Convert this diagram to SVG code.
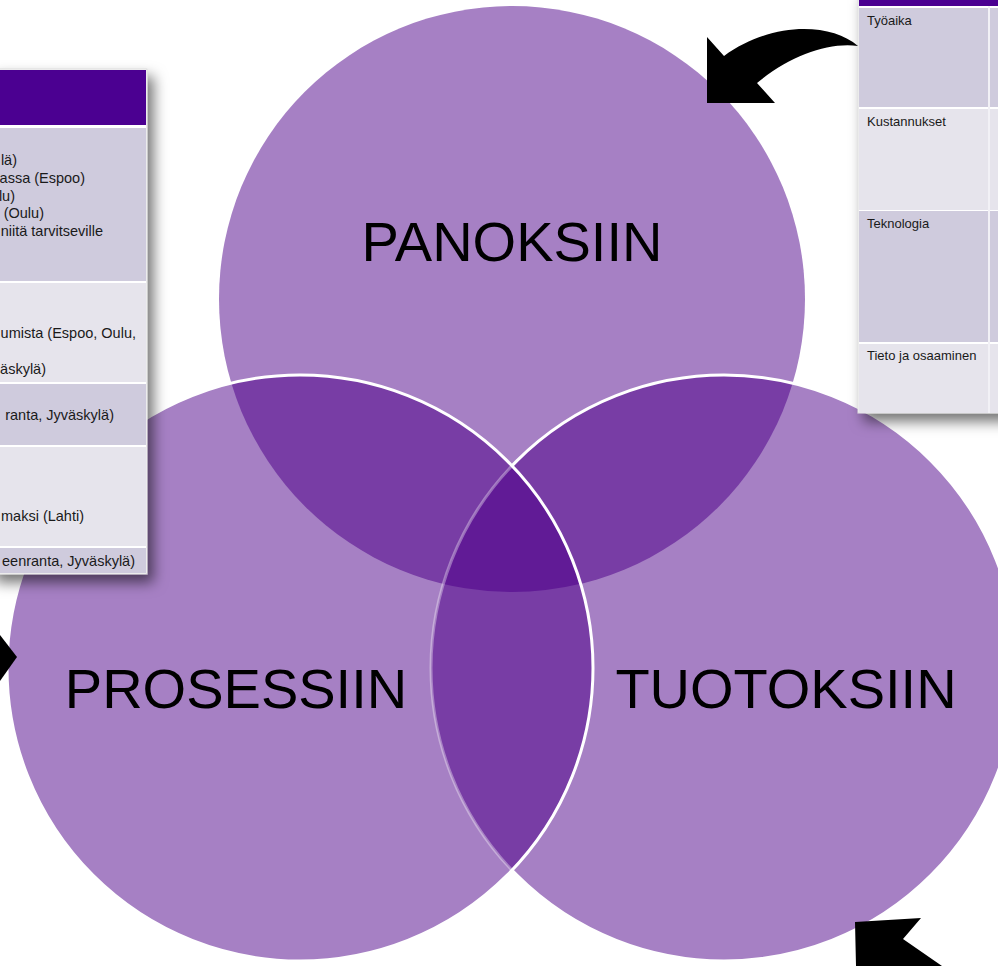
<svg xmlns="http://www.w3.org/2000/svg" width="998" height="966" viewBox="0 0 998 966">
  <style>
    .base { fill: #A680C4; }
    .pair { fill: #783DA5; }
    .triple { fill: #611B96; }
    .rim { fill: none; stroke: #FFFFFF; stroke-width: 3; }
    .label { font-family: "Liberation Sans", Arial, sans-serif; font-size: 56px; fill: #000000; text-anchor: middle; }
    .cell { font-family: "Liberation Sans", Arial, sans-serif; font-size: 13px; fill: #1A1A1A; }
    .cellWide { font-size: 14.5px; text-anchor: end; }
    .head { fill: #4B0091; }
    .rowDark { fill: #CFCBDD; }
    .rowLight { fill: #E6E4EC; }
    .arrow { fill: #000000; }
  </style>
  <defs>
    <clipPath id="clipTop"><circle cx="512" cy="299" r="293"/></clipPath>
    <clipPath id="clipLeft"><circle cx="300" cy="668" r="293"/></clipPath>
    <clipPath id="clipTopLeft" clip-path="url(#clipTop)"><circle cx="300" cy="668" r="293"/></clipPath>
    <mask id="outsideLeft">
      <rect x="0" y="0" width="998" height="966" fill="#FFFFFF"/>
      <circle cx="300" cy="668" r="293" fill="#000000"/>
    </mask>
    <filter id="tableShadow" x="-20%" y="-20%" width="140%" height="140%">
      <feDropShadow dx="6" dy="8" stdDeviation="7" flood-color="#000000" flood-opacity="0.55"/>
    </filter>
  </defs>

  <rect x="0" y="0" width="998" height="966" fill="#FFFFFF"/>

  <!-- Venn diagram: three circles with darker overlaps -->
  <g id="venn-fills">
    <circle class="base" cx="512" cy="299" r="293"/>
    <circle class="base" cx="724" cy="668" r="293"/>
    <circle class="base" cx="300" cy="668" r="293"/>
    <circle class="pair" cx="300" cy="668" r="293" clip-path="url(#clipTop)"/>
    <circle class="pair" cx="724" cy="668" r="293" clip-path="url(#clipTop)"/>
    <circle class="pair" cx="724" cy="668" r="293" clip-path="url(#clipLeft)"/>
    <circle class="triple" cx="724" cy="668" r="293" clip-path="url(#clipTopLeft)"/>
  </g>
  <g id="venn-rims">
    <circle class="rim" cx="724" cy="668" r="293" mask="url(#outsideLeft)"/>
    <circle class="rim" cx="724" cy="668" r="293" clip-path="url(#clipLeft)" stroke-opacity="0.35"/>
    <circle class="rim" cx="300" cy="668" r="293"/>
  </g>

  <g id="node-panoksiin">
    <text class="label" x="512" y="261">PANOKSIIN</text>
  </g>
  <g id="node-prosessiin">
    <text class="label" x="236" y="708">PROSESSIIN</text>
  </g>
  <g id="node-tuotoksiin">
    <text class="label" x="786" y="708">TUOTOKSIIN</text>
  </g>

  <!-- Left table (cropped at the left edge) -->
  <g id="table-left">
    <g filter="url(#tableShadow)">
      <rect x="-10" y="69" width="157" height="505" fill="#FFFFFF" stroke="#D8D8D8" stroke-width="1"/>
    </g>
    <rect class="head" x="0" y="70" width="146" height="55"/>
    <rect class="rowDark" x="0" y="128" width="146" height="153"/>
    <rect class="rowLight" x="0" y="283" width="146" height="99"/>
    <rect class="rowDark" x="0" y="384" width="146" height="61"/>
    <rect class="rowLight" x="0" y="447" width="146" height="99"/>
    <rect class="rowDark" x="0" y="548" width="146" height="25"/>
    <text class="cell cellWide" x="17" y="164.5">lä)</text>
    <text class="cell cellWide" x="85" y="182.5">assa (Espoo)</text>
    <text class="cell cellWide" x="15" y="200.5">lu)</text>
    <text class="cell cellWide" x="44" y="217.5">(Oulu)</text>
    <text class="cell cellWide" x="103" y="235.5">niitä tarvitseville</text>
    <text class="cell cellWide" x="136" y="337.5">umista (Espoo, Oulu,</text>
    <text class="cell cellWide" x="46" y="374">äskylä)</text>
    <text class="cell cellWide" x="114" y="419.5">ranta, Jyväskylä)</text>
    <text class="cell cellWide" x="84" y="521">maksi (Lahti)</text>
    <text class="cell cellWide" x="135" y="566">eenranta, Jyväskylä)</text>
  </g>

  <!-- Right table (cropped at the top and right edges) -->
  <g id="table-right">
    <g filter="url(#tableShadow)">
      <rect x="858" y="-10" width="160" height="423" fill="#FFFFFF" stroke="#D8D8D8" stroke-width="1"/>
    </g>
    <rect class="head" x="859" y="0" width="139" height="6"/>
    <rect class="rowDark" x="859" y="8" width="139" height="99"/>
    <rect class="rowLight" x="859" y="109" width="139" height="101"/>
    <rect class="rowDark" x="859" y="211" width="139" height="131"/>
    <rect class="rowLight" x="859" y="344" width="139" height="69"/>
    <line x1="989" y1="6" x2="989" y2="413" stroke="#F2F1F6" stroke-width="2"/>
    <text class="cell" x="867" y="24.5">Työaika</text>
    <text class="cell" x="867" y="126">Kustannukset</text>
    <text class="cell" x="867" y="227.5">Teknologia</text>
    <text class="cell" x="867" y="360">Tieto ja osaaminen</text>
  </g>

  <!-- Connectors: block arrows pointing into the diagram -->
  <g id="connectors">
    <path class="arrow" d="M858,46 C830,22 770,22 724,56 L707,37 L707,103 L775,103 L757,83 C790,56 828,42 858,46 Z"/>
    <polygon class="arrow" points="855,922 921,918 903,939 942,966 856,966"/>
    <polygon class="arrow" points="0,635 17,657 0,681"/>
  </g>
</svg>
